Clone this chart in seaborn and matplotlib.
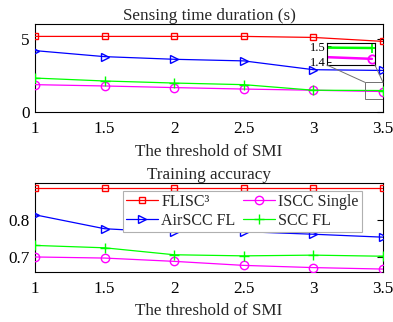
import matplotlib
matplotlib.use("Agg")
import matplotlib.pyplot as plt
from matplotlib.patches import Rectangle, ConnectionPatch
import seaborn as sns
import pandas as pd

# SMI threshold values
thresholds = [1, 1.5, 2, 2.5, 3, 3.5]

# Sensing time duration (s)
time_flisc3 = [5.18, 5.18, 5.18, 5.18, 5.11, 4.84]
time_airscc = [4.21, 3.80, 3.62, 3.51, 2.91, 2.86]
time_iscc = [1.89, 1.80, 1.69, 1.59, 1.51, 1.42]
time_scc = [2.34, 2.14, 2.00, 1.89, 1.51, 1.49]

# Training accuracy
acc_flisc3 = [0.888, 0.888, 0.888, 0.888, 0.888, 0.888]
acc_airscc = [0.814, 0.776, 0.766, 0.768, 0.761, 0.753]
acc_iscc = [0.699, 0.696, 0.687, 0.676, 0.670, 0.666]
acc_scc = [0.7305, 0.724, 0.705, 0.702, 0.704, 0.701]

names = ["FLISC³", "AirSCC FL", "ISCC Single", "SCC FL"]
colors = ["#ff0000", "#0000ff", "#ff00ff", "#00ff00"]
markers = ["s", ">", "o", "+"]
msizes = [4.5, 6, 6, 6.5]

sns.set_theme(style="white")
plt.rcParams["font.family"] = ["Liberation Serif", "DejaVu Serif"]
plt.rcParams["mathtext.fontset"] = "stix"

FS = 12.3
LEG_FS = 11.5

fig = plt.figure(figsize=(3.93, 3.22), dpi=100)
ax1 = fig.add_axes([0.0891, 0.651, 0.8855, 0.2733])
ax2 = fig.add_axes([0.0891, 0.1553, 0.8855, 0.2755])


def draw_series(ax, series, zorder=3):
    for vals, name, c, m, ms in zip(series, names, colors, markers, msizes):
        df = pd.DataFrame({"x": thresholds, "y": vals})
        sns.lineplot(data=df, x="x", y="y", ax=ax, color=c, marker=m,
                     markersize=ms, markerfacecolor="none", markeredgecolor=c,
                     markeredgewidth=1.0, linewidth=0.9, label=name,
                     zorder=zorder)


def style_axes(ax):
    for s in ax.spines.values():
        s.set_color("black")
        s.set_linewidth(0.8)
    ax.tick_params(direction="in", length=4, width=0.8, top=False, right=True,
                   labelsize=FS, colors="black", pad=4)
    ax.tick_params(axis="x", pad=6.5)
    ax.set_xlim(1, 3.5)
    ax.set_xticks([1, 1.5, 2, 2.5, 3, 3.5])
    ax.set_xticklabels(["1", "1.5", "2", "2.5", "3", "3.5"])
    ax.set_xlabel("The threshold of SMI", fontsize=FS, labelpad=4.5)
    ax.set_ylabel("")


draw_series(ax1, [time_flisc3, time_airscc, time_iscc, time_scc])
style_axes(ax1)
ax1.set_ylim(0, 6)
ax1.set_yticks([0, 5])
ax1.set_yticklabels(["0", "5"])
ax1.set_title("Sensing time duration (s)", fontsize=FS, pad=3)
ax1.get_legend().remove()

draw_series(ax2, [acc_flisc3, acc_airscc, acc_iscc, acc_scc])
style_axes(ax2)
ax2.set_ylim(0.658, 0.9)
ax2.set_yticks([0.7, 0.8])
ax2.set_yticklabels(["0.7", "0.8"])
ax2.set_title("Training accuracy", fontsize=FS, pad=3)
handles, labels = ax2.get_legend_handles_labels()
leg = ax2.legend(handles, labels, ncol=2, loc="upper left",
                 bbox_to_anchor=(0.253, 0.917), fontsize=LEG_FS,
                 frameon=True, fancybox=False, edgecolor="#b0b0b0",
                 framealpha=1, handlelength=2.0, handletextpad=0.2,
                 columnspacing=0.45, borderpad=0.2, labelspacing=0.2,
                 borderaxespad=0)
leg.get_frame().set_linewidth(0.8)

# Zoomed view near the last threshold
zoom_rect = Rectangle((3.37, 0.92), 0.13, 1.13, fill=False,
                      edgecolor="#707070", linewidth=0.7, zorder=4)
ax1.add_patch(zoom_rect)

axin = fig.add_axes([0.832, 0.798, 0.122, 0.0674])
for vals, c, m, ms in zip([time_iscc, time_scc], colors[2:], markers[2:], msizes[2:]):
    df = pd.DataFrame({"x": thresholds, "y": vals})
    sns.lineplot(data=df, x="x", y="y", ax=axin, color=c, marker=m,
                 markersize=ms, markerfacecolor="none", markeredgecolor=c,
                 markeredgewidth=1.3, linewidth=1.8, legend=False)
axin.set_xlim(3.44, 3.504)
axin.set_ylim(1.38, 1.52)
axin.set_xticks([])
axin.set_yticks([1.4, 1.5])
axin.set_yticklabels(["1.4", "1.5"])
axin.tick_params(direction="in", length=3, width=0.6, labelsize=9, pad=1,
                 colors="black", left=True)
axin.set_xlabel("")
axin.set_ylabel("")
for s in axin.spines.values():
    s.set_color("black")
    s.set_linewidth(0.8)

for (xa, ya), (xb, yb) in [((0, 0), (3.37, 2.05)), ((1, 0), (3.5, 2.05))]:
    con = ConnectionPatch(xyA=(xa, ya), coordsA=axin.transAxes,
                          xyB=(xb, yb), coordsB=ax1.transData,
                          color="#707070", linewidth=0.7)
    fig.add_artist(con)

fig.savefig("out.png", dpi=100, facecolor="white")
